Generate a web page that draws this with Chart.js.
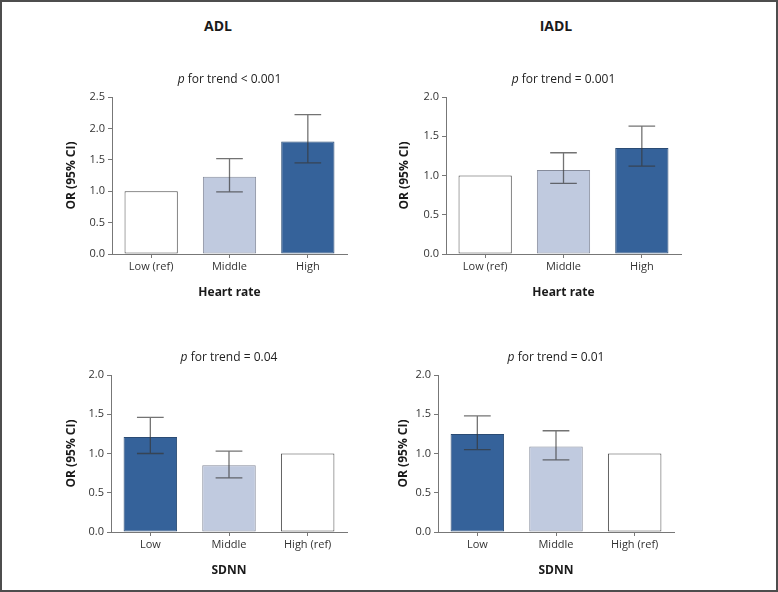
<!DOCTYPE html>
<html>
<head>
<meta charset="utf-8">
<script src="https://cdn.jsdelivr.net/npm/chart.js@4.4.0/dist/chart.umd.min.js"></script>
<style>
  html, body { margin: 0; padding: 0; background: #fff; }
  #page { position: relative; width: 778px; height: 592px; box-sizing: border-box; border: 2px solid #4d4d4d; overflow: hidden; }
  canvas { position: absolute; }
  .head { position: absolute; top: 14px; font: bold 14px "Open Sans", sans-serif; color: #1a1a1a; transform: translateX(-50%); }
</style>
</head>
<body>
<div id="page">
  <div class="head" style="left:216px">ADL</div>
  <div class="head" style="left:554px">IADL</div>
  <canvas id="c1"></canvas>
  <canvas id="c2"></canvas>
  <canvas id="c3"></canvas>
  <canvas id="c4"></canvas>
</div>
<script>
// heart rate tertiles
const hr_labels = ['Low (ref)', 'Middle', 'High'];
const adl_hr_or = [1.0, 1.23, 1.79];
const adl_hr_lo = [null, 0.99, 1.45];
const adl_hr_hi = [null, 1.52, 2.22];
const iadl_hr_or = [1.0, 1.07, 1.35];
const iadl_hr_lo = [null, 0.90, 1.12];
const iadl_hr_hi = [null, 1.29, 1.63];

// SDNN tertiles
const sdnn_labels = ['Low', 'Middle', 'High (ref)'];
const adl_sdnn_or = [1.21, 0.85, 1.0];
const adl_sdnn_lo = [1.00, 0.69, null];
const adl_sdnn_hi = [1.46, 1.03, null];
const iadl_sdnn_or = [1.25, 1.09, 1.0];
const iadl_sdnn_lo = [1.05, 0.92, null];
const iadl_sdnn_hi = [1.48, 1.29, null];

const trend_texts = ['for trend < 0.001', 'for trend = 0.001', 'for trend = 0.04', 'for trend = 0.01'];

const WHITE = '#ffffff', LIGHT = '#c0cadf', DARK = '#35629a';
const BORDER_W = '#4a4a4a', BORDER_L = '#858b9b', BORDER_D = '#2a4b74';
const FONT = '"Open Sans", sans-serif';

// draws the CI whiskers from the lo/hi arrays
const errorBars = {
  id: 'errorBars',
  afterDatasetsDraw(chart, args, opts){
    const ctx = chart.ctx;
    const y = chart.scales.y;
    const meta = chart.getDatasetMeta(0);
    ctx.save();
    ctx.strokeStyle = 'rgba(55,55,55,0.7)';
    ctx.lineWidth = 1.3;
    meta.data.forEach(function(bar, i){
      if(opts.lo[i] == null) return;
      const x = bar.x;
      const half = bar.width / 4;
      const yl = y.getPixelForValue(opts.lo[i]);
      const yh = y.getPixelForValue(opts.hi[i]);
      ctx.beginPath();
      ctx.moveTo(x, yl); ctx.lineTo(x, yh);
      ctx.moveTo(x - half, yl); ctx.lineTo(x + half, yl);
      ctx.moveTo(x - half, yh); ctx.lineTo(x + half, yh);
      ctx.stroke();
    });
    ctx.restore();
  }
};

// "p for trend ..." with an italic p
const trendTitle = {
  id: 'trendTitle',
  afterDraw(chart, args, opts){
    const ctx = chart.ctx;
    const area = chart.chartArea;
    ctx.save();
    ctx.fillStyle = '#222';
    ctx.textBaseline = 'middle';
    ctx.font = 'italic 12px ' + FONT;
    const wp = ctx.measureText('p ').width;
    ctx.font = '12px ' + FONT;
    const wr = ctx.measureText(opts.text).width;
    let x = (area.left + area.right) / 2 - (wp + wr) / 2;
    const yy = area.top - 17;
    ctx.font = 'italic 12px ' + FONT;
    ctx.fillText('p', x, yy);
    ctx.font = '12px ' + FONT;
    ctx.fillText(opts.text, x + wp, yy);
    ctx.restore();
  }
};

function make_panel(id, box, area, labels, values, lo, hi, colors, borders, ymax, xtitle, trend, ytitlePad, xtitlePad){
  const el = document.getElementById(id);
  el.width = box.w; el.height = box.h;
  el.style.left = box.x + 'px'; el.style.top = box.y + 'px';
  el.style.width = box.w + 'px'; el.style.height = box.h + 'px';
  return new Chart(el, {
    type: 'bar',
    plugins: [errorBars, trendTitle],
    data: {
      labels: labels,
      datasets: [{
        data: values,
        backgroundColor: colors,
        borderColor: borders,
        borderWidth: 1,
        borderSkipped: false,
        barPercentage: 0.68,
        categoryPercentage: 1.0
      }]
    },
    options: {
      responsive: false,
      animation: false,
      events: [],
      layout: {
        padding: {
          left: 0,
          top: area.top - box.y,
          right: box.x + box.w - area.right,
          bottom: 0
        }
      },
      plugins: {
        legend: false,
        tooltip: {enabled: false},
        errorBars: {lo: lo, hi: hi},
        trendTitle: {text: trend}
      },
      scales: {
        x: {
          offset: true,
          grid: {display: true, drawOnChartArea: false, offset: false, tickLength: 4, color: '#777', tickColor: '#777'},
          border: {display: true, color: '#777', width: 1},
          ticks: {color: '#333', padding: 2, font: {family: FONT, size: 11}},
          title: {display: true, text: xtitle, color: '#1a1a1a', font: {family: FONT, size: 12, weight: 'bold'}, padding: {top: 0, bottom: xtitlePad}},
          afterFit: function(s){ s.height = box.y + box.h - area.bottom; }
        },
        y: {
          min: 0,
          max: ymax,
          grid: {display: true, drawOnChartArea: false, tickLength: 4, color: '#777', tickColor: '#777'},
          border: {display: true, color: '#777', width: 1},
          ticks: {stepSize: 0.5, color: '#333', padding: 3, font: {family: FONT, size: 11},
            callback: function(v){ return v.toFixed(1); }},
          title: {display: true, text: 'OR (95% CI)', color: '#1a1a1a', font: {family: FONT, size: 12, weight: 'bold'}, padding: {top: ytitlePad, bottom: 0}},
          afterFit: function(s){ s.width = area.left - box.x; }
        }
      }
    }
  });
}

make_panel('c1', {x: 50, y: 40, w: 320, h: 270}, {left: 110, right: 345, top: 95, bottom: 252},
  hr_labels, adl_hr_or, adl_hr_lo, adl_hr_hi, [WHITE, LIGHT, DARK], [BORDER_W, BORDER_L, BORDER_D],
  2.5, 'Heart rate', trend_texts[0], 12.8, 12);
make_panel('c2', {x: 380, y: 40, w: 320, h: 270}, {left: 444, right: 679, top: 95, bottom: 252},
  hr_labels, iadl_hr_or, iadl_hr_lo, iadl_hr_hi, [WHITE, LIGHT, DARK], [BORDER_W, BORDER_L, BORDER_D],
  2.0, 'Heart rate', trend_texts[1], 15.8, 12);
make_panel('c3', {x: 50, y: 330, w: 320, h: 255}, {left: 109, right: 345, top: 373, bottom: 530},
  sdnn_labels, adl_sdnn_or, adl_sdnn_lo, adl_sdnn_hi, [DARK, LIGHT, WHITE], [BORDER_D, BORDER_L, BORDER_W],
  2.0, 'SDNN', trend_texts[2], 12.8, 9);
make_panel('c4', {x: 380, y: 330, w: 320, h: 255}, {left: 436, right: 672, top: 373, bottom: 530},
  sdnn_labels, iadl_sdnn_or, iadl_sdnn_lo, iadl_sdnn_hi, [DARK, LIGHT, WHITE], [BORDER_D, BORDER_L, BORDER_W],
  2.0, 'SDNN', trend_texts[3], 14.8, 9);
</script>
</body>
</html>
